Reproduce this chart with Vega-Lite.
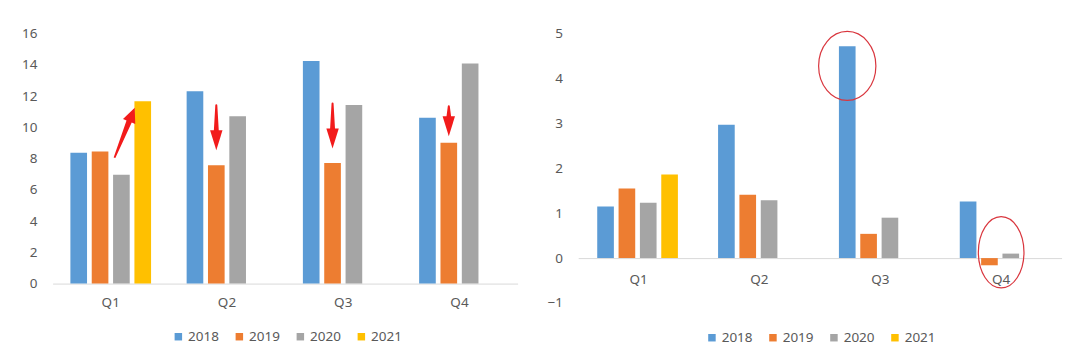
{
  "$schema": "https://vega.github.io/schema/vega-lite/v6.json",
  "background": "white",
  "padding": {"left": 20.6, "top": 26.6, "right": 4, "bottom": 4},
  "spacing": 28.6,
  "align": "none",
  "config": {
    "view": {"stroke": null},
    "font": "Noto Sans",
    "axis": {
      "labelFont": "Noto Sans",
      "labelFontSize": 13.5,
      "labelColor": "#595959",
      "labelOverlap": false,
      "ticks": false,
      "tickSize": 0,
      "grid": false,
      "title": null,
      "domainColor": "#d9d9d9",
      "domainWidth": 1
    },
    "axisY": {"domain": false, "labelPadding": 15.7},
    "legend": {
      "orient": "none",
      "direction": "horizontal",
      "title": null,
      "symbolType": "square",
      "symbolSize": 56,
      "symbolStrokeWidth": 0,
      "labelFont": "Noto Sans",
      "labelFontSize": 13.5,
      "labelColor": "#595959",
      "labelOffset": 3,
      "columnPadding": 13,
      "padding": 0
    }
  },
  "datasets": {
    "levels": [
      {"quarter": "Q1", "year": "2018", "value": 8.37},
      {"quarter": "Q1", "year": "2019", "value": 8.45},
      {"quarter": "Q1", "year": "2020", "value": 6.96},
      {"quarter": "Q1", "year": "2021", "value": 11.67},
      {"quarter": "Q2", "year": "2018", "value": 12.31},
      {"quarter": "Q2", "year": "2019", "value": 7.57},
      {"quarter": "Q2", "year": "2020", "value": 10.71},
      {"quarter": "Q3", "year": "2018", "value": 14.24},
      {"quarter": "Q3", "year": "2019", "value": 7.72},
      {"quarter": "Q3", "year": "2020", "value": 11.43},
      {"quarter": "Q4", "year": "2018", "value": 10.62},
      {"quarter": "Q4", "year": "2019", "value": 9.02},
      {"quarter": "Q4", "year": "2020", "value": 14.08}
    ],
    "growth": [
      {"quarter": "Q1", "year": "2018", "value": 1.15},
      {"quarter": "Q1", "year": "2019", "value": 1.55},
      {"quarter": "Q1", "year": "2020", "value": 1.23},
      {"quarter": "Q1", "year": "2021", "value": 1.86},
      {"quarter": "Q2", "year": "2018", "value": 2.97},
      {"quarter": "Q2", "year": "2019", "value": 1.41},
      {"quarter": "Q2", "year": "2020", "value": 1.29},
      {"quarter": "Q3", "year": "2018", "value": 4.72},
      {"quarter": "Q3", "year": "2019", "value": 0.54},
      {"quarter": "Q3", "year": "2020", "value": 0.9},
      {"quarter": "Q4", "year": "2018", "value": 1.26},
      {"quarter": "Q4", "year": "2019", "value": -0.16},
      {"quarter": "Q4", "year": "2020", "value": 0.1}
    ],
    "arrows": [
      {"quarter": "Q1", "year": "2021", "part": "tip", "value": 11.26},
      {"quarter": "Q2", "year": "2019", "part": "tail", "value": 11.41},
      {"quarter": "Q2", "year": "2019", "part": "neck", "value": 9.75},
      {"quarter": "Q2", "year": "2019", "part": "tip", "value": 8.53},
      {"quarter": "Q3", "year": "2019", "part": "tail", "value": 11.52},
      {"quarter": "Q3", "year": "2019", "part": "neck", "value": 9.86},
      {"quarter": "Q3", "year": "2019", "part": "tip", "value": 8.64},
      {"quarter": "Q4", "year": "2019", "part": "tail", "value": 11.35},
      {"quarter": "Q4", "year": "2019", "part": "neck", "value": 10.6},
      {"quarter": "Q4", "year": "2019", "part": "tip", "value": 9.43}
    ],
    "circled": [
      {"quarter": "Q3", "year": "2018", "value": 4.28},
      {"quarter": "Q4", "year": "2019", "value": 0.13}
    ]
  },
  "resolve": {"scale": {"color": "independent"}, "legend": {"color": "independent"}},
  "hconcat": [
    {
      "width": 465,
      "height": 250,
      "layer": [
        {
          "data": {"name": "levels"},
          "mark": {"type": "bar"},
          "encoding": {
            "x": {
              "field": "quarter",
              "type": "nominal",
              "sort": ["Q1", "Q2", "Q3", "Q4"],
              "scale": {"paddingInner": 0.306, "paddingOuter": 0.153},
              "axis": {"labelAngle": 0, "labelPadding": 12}
            },
            "xOffset": {
              "field": "year",
              "type": "nominal",
              "scale": {"domain": ["2018", "2019", "2020", "2021"], "paddingInner": 0.22, "paddingOuter": 0}
            },
            "y": {
              "field": "value",
              "type": "quantitative",
              "scale": {"domain": [0, 16], "nice": false},
              "axis": {"values": [0, 2, 4, 6, 8, 10, 12, 14, 16]}
            },
            "color": {
              "field": "year",
              "type": "nominal",
              "scale": {"domain": ["2018", "2019", "2020", "2021"], "range": ["#5b9bd5", "#ed7d31", "#a5a5a5", "#ffc000"]},
              "legend": {"orient": "none", "legendX": 119, "legendY": 296, "direction": "horizontal", "title": null}
            }
          }
        },
        {
          "data": {"name": "arrows"},
          "transform": [{"filter": "datum.part !== 'tip'"}],
          "mark": {"type": "trail", "color": "#f21b1b"},
          "encoding": {
            "x": {"field": "quarter", "type": "nominal", "axis": {"labelAngle": 0, "labelPadding": 12}},
            "xOffset": {"field": "year", "type": "nominal"},
            "y": {"field": "value", "type": "quantitative", "axis": {"values": [0, 2, 4, 6, 8, 10, 12, 14, 16]}},
            "detail": {"field": "quarter"},
            "size": {"field": "part", "type": "nominal", "scale": {"domain": ["tail", "neck"], "range": [2, 5]}, "legend": null}
          }
        },
        {
          "data": {"name": "arrows"},
          "transform": [{"filter": "datum.part === 'tip' && datum.quarter !== 'Q1'"}],
          "mark": {"type": "point", "shape": "M0,0L-0.62,-2L0.62,-2Z", "size": 400, "filled": true, "color": "#f21b1b", "opacity": 1, "strokeWidth": 0},
          "encoding": {
            "x": {"field": "quarter", "type": "nominal", "axis": {"labelAngle": 0, "labelPadding": 12}},
            "xOffset": {"field": "year", "type": "nominal"},
            "y": {"field": "value", "type": "quantitative", "axis": {"values": [0, 2, 4, 6, 8, 10, 12, 14, 16]}}
          }
        },
        {
          "data": {"name": "arrows"},
          "transform": [{"filter": "datum.quarter === 'Q1'"}],
          "mark": {"type": "point", "shape": "M-0.742,0.3L-0.082,1.8L-0.462,1.8L-0.652,5.7L-0.832,5.7L-1.022,1.8L-1.402,1.8Z", "size": 400, "angle": 22, "filled": true, "color": "#f21b1b", "opacity": 1, "strokeWidth": 0},
          "encoding": {
            "x": {"field": "quarter", "type": "nominal", "axis": {"labelAngle": 0, "labelPadding": 12}},
            "xOffset": {"field": "year", "type": "nominal"},
            "y": {"field": "value", "type": "quantitative", "axis": {"values": [0, 2, 4, 6, 8, 10, 12, 14, 16]}}
          }
        }
      ]
    },
    {
      "width": 483.4,
      "height": 269.4,
      "layer": [
        {
          "data": {"name": "growth"},
          "mark": {"type": "bar"},
          "encoding": {
            "x": {
              "field": "quarter",
              "type": "nominal",
              "sort": ["Q1", "Q2", "Q3", "Q4"],
              "scale": {"paddingInner": 0.315, "paddingOuter": 0.1575},
              "axis": {"labelAngle": 0, "labelPadding": 14, "offset": -44.9}
            },
            "xOffset": {
              "field": "year",
              "type": "nominal",
              "scale": {"domain": ["2018", "2019", "2020", "2021"], "paddingInner": 0.22, "paddingOuter": 0}
            },
            "y": {
              "field": "value",
              "type": "quantitative",
              "scale": {"domain": [-1, 5], "nice": false},
              "axis": {"values": [-1, 0, 1, 2, 3, 4, 5]}
            },
            "color": {
              "field": "year",
              "type": "nominal",
              "scale": {"domain": ["2018", "2019", "2020", "2021"], "range": ["#5b9bd5", "#ed7d31", "#a5a5a5", "#ffc000"]},
              "legend": {"orient": "none", "legendX": 127, "legendY": 297, "direction": "horizontal", "title": null}
            }
          }
        },
        {
          "data": {"name": "circled"},
          "transform": [{"filter": "datum.quarter === 'Q3'"}],
          "mark": {"type": "point", "shape": "M0.83,0C0.83,0.552,0.458,1,0,1C-0.458,1,-0.83,0.552,-0.83,0C-0.83,-0.552,-0.458,-1,0,-1C0.458,-1,0.83,-0.552,0.83,0Z", "size": 4761, "filled": false, "stroke": "#d9363e", "strokeWidth": 1.2, "opacity": 1},
          "encoding": {
            "x": {"field": "quarter", "type": "nominal", "axis": {"labelAngle": 0, "labelPadding": 14, "offset": -44.9}},
            "xOffset": {"field": "year", "type": "nominal"},
            "y": {"field": "value", "type": "quantitative", "axis": {"values": [-1, 0, 1, 2, 3, 4, 5]}}
          }
        },
        {
          "data": {"name": "circled"},
          "transform": [{"filter": "datum.quarter === 'Q4'"}],
          "mark": {"type": "point", "shape": "M0.64,0C0.64,0.552,0.354,1,0,1C-0.354,1,-0.64,0.552,-0.64,0C-0.64,-0.552,-0.354,-1,0,-1C0.354,-1,0.64,-0.552,0.64,0Z", "size": 5084, "filled": false, "stroke": "#d9363e", "strokeWidth": 1.2, "opacity": 1},
          "encoding": {
            "x": {"field": "quarter", "type": "nominal", "axis": {"labelAngle": 0, "labelPadding": 14, "offset": -44.9}},
            "y": {"field": "value", "type": "quantitative", "axis": {"values": [-1, 0, 1, 2, 3, 4, 5]}}
          }
        }
      ]
    }
  ]
}
